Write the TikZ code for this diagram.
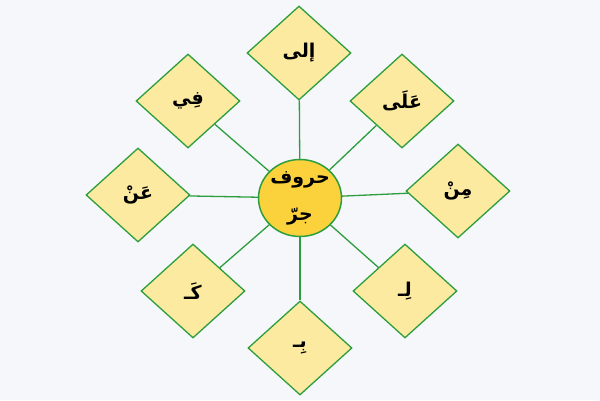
\documentclass[tikz,border=0pt]{standalone}
\usepackage{fontspec}
\TeXXeTstate=1
\newfontfamily\arabicfont[Script=Arabic]{DejaVu Sans}
\usetikzlibrary{shapes.geometric}
\definecolor{bgc}{RGB}{245,247,250}
\definecolor{dfill}{RGB}{252,234,160}
\definecolor{cfill}{RGB}{252,210,60}
\definecolor{gline}{RGB}{44,158,62}
\tikzset{
  harf/.style={diamond, draw=gline, line width=1.3pt, fill=dfill, aspect=1.1,
    minimum width=104pt, minimum height=94pt, inner sep=0pt,
    font=\arabicfont\bfseries\fontsize{19}{22}\selectfont},
  hub/.style={ellipse, draw=gline, line width=1.5pt, fill=cfill,
    minimum width=83pt, minimum height=77pt, inner sep=-12pt, align=center,
    font=\arabicfont\bfseries\fontsize{19}{37}\selectfont},
  link/.style={draw=gline, line width=1.3pt}
}
\begin{document}
\begin{tikzpicture}[x=1pt,y=-1pt]
\path[fill=bgc] (0,0) rectangle (600,400);
\useasboundingbox (0,0) rectangle (600,400);
\node[hub] (c) at (300,198) {\beginR حروف\endR\\\beginR جرّ\endR};
\node[harf] (n) at (299,53) {\beginR إلى\endR};
\node[harf] (ne) at (402,101) {\beginR عَلَى\endR};
\node[harf] (e) at (458,191) {\beginR مِنْ\endR};
\node[harf] (se) at (405,291) {\beginR لِـ\endR};
\node[harf] (s) at (300,348) {\beginR بِـ\endR};
\node[harf] (sw) at (193,291) {\beginR كَـ\endR};
\node[harf] (w) at (138,195) {\beginR عَنْ\endR};
\node[harf] (nw) at (188,101) {\beginR فِي\endR};
\foreach \d in {n,ne,e,se,s,sw,w,nw} {\draw[link] (c) -- (\d);}
\end{tikzpicture}
\end{document}
